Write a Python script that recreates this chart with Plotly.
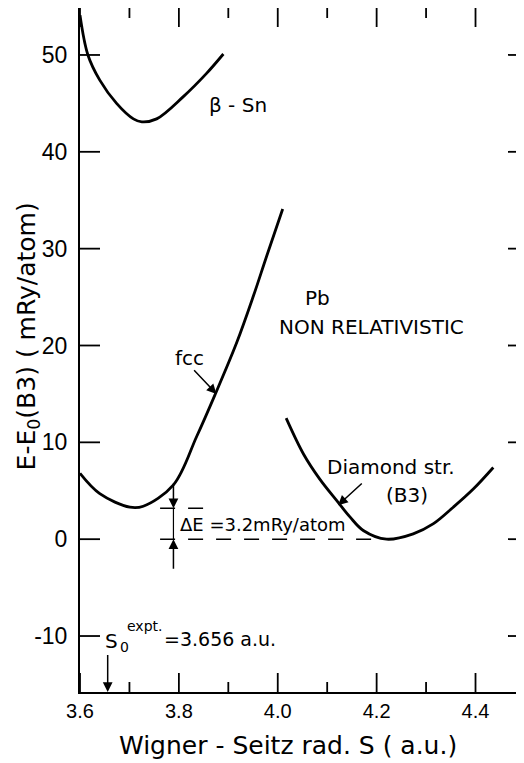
import plotly.graph_objects as go

# ---- data ----
bsn_x = [3.600, 3.616, 3.640, 3.674, 3.708, 3.725, 3.755, 3.809, 3.856, 3.890]
bsn_y = [54.1, 50.0, 47.4, 45.0, 43.4, 43.1, 43.4, 45.7, 48.1, 50.1]

fcc_x = [3.600, 3.640, 3.701, 3.728, 3.789, 3.836, 3.873, 3.917, 3.950, 3.978, 4.010]
fcc_y = [6.8, 4.7, 3.3, 3.4, 5.6, 10.6, 14.9, 20.3, 25.0, 29.3, 34.1]

dia_x = [4.017, 4.052, 4.085, 4.119, 4.146, 4.173, 4.220, 4.274, 4.315, 4.355, 4.396, 4.436]
dia_y = [12.5, 8.8, 6.2, 4.0, 2.3, 0.9, 0.0, 0.55, 1.6, 3.3, 5.2, 7.4]

x_ticks = [3.6, 3.8, 4.0, 4.2, 4.4]
x_ticktext = ["3.6", "3.8", "4.0", "4.2", "4.4"]
x_minor = [3.7, 3.9, 4.1, 4.3]
y_ticks = [-10, 0, 10, 20, 30, 40, 50]
y_ticktext = ["-10", "0", "10", "20", "30", "40", "50"]

DELTA_E = 3.2
S0_EXPT = 3.656

XR = [3.6, 4.49]
YR = [-15.78, 54.85]

FONT = "DejaVu Sans"
TFONT = "Liberation Sans"

fig = go.Figure()
line = dict(color="black", width=2.8, shape="spline", smoothing=1.0)
for xs, ys in [(bsn_x, bsn_y), (fcc_x, fcc_y), (dia_x, dia_y)]:
    fig.add_trace(go.Scatter(x=xs, y=ys, mode="lines", line=line,
                             hoverinfo="skip", showlegend=False))

shapes = []
dash = "15px,13px"
for yv, x1 in [(DELTA_E, 3.862), (0.0, 4.23)]:
    shapes.append(dict(type="line", xref="x", yref="y", x0=3.762, x1=x1, y0=yv, y1=yv,
                       line=dict(color="black", width=1.5, dash=dash)))
shapes.append(dict(type="line", xref="x", yref="y", x0=3.789, x1=3.789, y0=0, y1=DELTA_E,
                   line=dict(color="black", width=1.2)))

# inward tick marks, drawn as pixel-sized shapes anchored on the axis values
tick_line = dict(color="black", width=1.8)
for vals, ln in [(x_ticks, 19), (x_minor, 10)]:
    for v in vals:
        shapes.append(dict(type="line", xref="x", yref="y", x0=v, x1=v,
                           ysizemode="pixel", yanchor=YR[0], y0=0, y1=ln, line=tick_line))
        shapes.append(dict(type="line", xref="x", yref="y", x0=v, x1=v,
                           ysizemode="pixel", yanchor=YR[1], y0=0, y1=-ln, line=tick_line))
for v in y_ticks:
    shapes.append(dict(type="line", xref="x", yref="y", y0=v, y1=v,
                       xsizemode="pixel", xanchor=XR[0], x0=0, x1=20, line=tick_line))
    shapes.append(dict(type="line", xref="x", yref="y", y0=v, y1=v,
                       xsizemode="pixel", xanchor=XR[1], x0=0, x1=-12, line=tick_line))

ann = []
def txt(x, y, s, size=20, xanchor="center", font=FONT):
    ann.append(dict(x=x, y=y, xref="x", yref="y", text=s, showarrow=False,
                    xanchor=xanchor, yanchor="middle",
                    font=dict(family=font, size=size, color="black")))

def arrow(x, y, ax, ay):
    ann.append(dict(x=x, y=y, ax=ax, ay=ay, xref="x", yref="y", axref="x", ayref="y",
                    text="", showarrow=True, arrowhead=2, arrowsize=1.3, arrowwidth=1.5,
                    arrowcolor="black"))

txt(3.92, 44.8, "β - Sn")
txt(4.08, 24.9, "Pb")
txt(4.19, 21.9, "NON RELATIVISTIC")
txt(3.822, 18.7, "fcc")
txt(4.23, 7.5, "Diamond str.")
txt(4.262, 4.6, "(B3)")
txt(3.798, 1.5, "ΔE =3.2mRy/atom", size=18, xanchor="left")
txt(3.6647, -10.5, "S", size=20)
txt(3.691, -11.1, "0", size=14)
txt(3.7314, -9.0, "expt.", size=14)
txt(3.7658, -10.3, "=3.656 a.u.", size=19, xanchor="left")

arrow(3.876, 15.0, 3.828, 17.6)
arrow(4.122, 3.5, 4.173, 5.9)
arrow(3.789, DELTA_E, 3.789, 5.9)
arrow(3.789, 0.0, 3.789, -3.2)
arrow(S0_EXPT, YR[0], S0_EXPT, -11.8)

ann.append(dict(x=-0.118, y=0.52, xref="paper", yref="paper", textangle=-90,
                xanchor="center", yanchor="middle",
                text="E-E<sub>0</sub>(B3) ( mRy/atom)", showarrow=False,
                font=dict(family=FONT, size=25, color="black")))
ann.append(dict(x=0.473, y=-0.0775, xref="paper", yref="paper",
                xanchor="center", yanchor="middle",
                text="Wigner - Seitz rad. S ( a.u.)", showarrow=False,
                font=dict(family=FONT, size=25, color="black")))

# page body has an 8px margin, so the figure is sized to fit the window
fig.update_layout(
    width=516, height=755,
    margin=dict(l=72, r=4, t=0, b=71, autoexpand=False),
    paper_bgcolor="white", plot_bgcolor="white",
    showlegend=False,
    shapes=shapes, annotations=ann,
    xaxis=dict(range=XR, tickvals=x_ticks, ticktext=x_ticktext, ticks="",
               showline=True, linecolor="black", linewidth=2, mirror=True,
               showgrid=False, zeroline=False, automargin=False,
               tickfont=dict(family=TFONT, size=20, color="black")),
    yaxis=dict(range=YR, tickvals=y_ticks, ticktext=y_ticktext, ticks="",
               showline=True, linecolor="black", linewidth=2, mirror=True,
               showgrid=False, zeroline=False, automargin=False, ticklabelstandoff=6,
               tickfont=dict(family=TFONT, size=23, color="black")),
)

fig.write_html("out.html")
